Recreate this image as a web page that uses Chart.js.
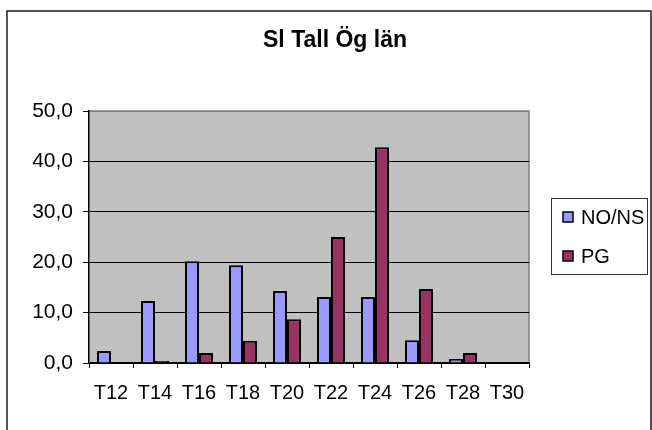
<!DOCTYPE html>
<html>
<head>
<meta charset="utf-8">
<title>Sl Tall Ög län</title>
<script src="https://cdn.jsdelivr.net/npm/chart.js@4"></script>
<style>
  html, body { margin: 0; padding: 0; background: #fff; }
  #wrap { width: 652px; height: 430px; position: relative; }
</style>
</head>
<body>
<div id="wrap"><canvas id="siChart" width="652" height="430"></canvas></div>
<script>
const chartTitle = "Sl Tall Ög län";
const categories = ["T12", "T14", "T16", "T18", "T20", "T22", "T24", "T26", "T28", "T30"];
const noNsValues = [2.4, 12.3, 20.2, 19.4, 14.3, 13.1, 13.1, 4.5, 0.8, 0];
const pgValues = [0, 0.4, 2.0, 4.4, 8.7, 25.0, 42.8, 14.7, 2.0, 0];
const yTicks = [0, 10, 20, 30, 40, 50];

const FONT = "'Liberation Sans', Arial, sans-serif";

// plot background, outer frame, title and boxed legend
const excelLook = {
    id: "excelLook",
    beforeDraw(chart) {
        const { ctx, chartArea: a } = chart;
        ctx.save();
        ctx.fillStyle = "#c0c0c0";
        ctx.fillRect(a.left, a.top, a.right - a.left, a.bottom - a.top);
        ctx.strokeStyle = "#808080";
        ctx.lineWidth = 1.5;
        ctx.beginPath();
        ctx.moveTo(a.left, a.top);
        ctx.lineTo(a.right, a.top);
        ctx.lineTo(a.right, a.bottom);
        ctx.stroke();
        ctx.restore();
    },
    afterDraw(chart) {
        const ctx = chart.ctx;
        ctx.save();

        // outer frame
        ctx.strokeStyle = "#1a1a1a";
        ctx.lineWidth = 1.5;
        ctx.strokeRect(7, 11, 644, 440);

        // title
        ctx.fillStyle = "#000";
        ctx.font = "bold 23px " + FONT;
        ctx.textAlign = "center";
        ctx.textBaseline = "alphabetic";
        ctx.fillText(chartTitle, 335, 47);

        // legend
        ctx.strokeStyle = "#333";
        ctx.lineWidth = 1;
        ctx.strokeRect(551.5, 198.5, 96, 76);
        ctx.font = "20px " + FONT;
        ctx.textAlign = "left";
        ctx.textBaseline = "middle";
        const rows = [217, 256];
        chart.data.datasets.forEach((ds, i) => {
            const y = rows[i];
            ctx.fillStyle = ds.backgroundColor;
            ctx.fillRect(563, y - 5, 10, 10);
            ctx.strokeStyle = "#000";
            ctx.lineWidth = 1.5;
            ctx.strokeRect(563, y - 5, 10, 10);
            ctx.fillStyle = "#000";
            ctx.fillText(ds.label, 581, y + 1);
        });
        ctx.restore();
    }
};

const ctx = document.getElementById("siChart").getContext("2d");

new Chart(ctx, {
    type: "bar",
    data: {
        labels: categories,
        datasets: [
            {
                label: "NO/NS",
                data: noNsValues,
                backgroundColor: "#9999ff",
                borderColor: "#000",
                borderWidth: 2,
                categoryPercentage: 0.636,
                barPercentage: 1.0,
            },
            {
                label: "PG",
                data: pgValues,
                backgroundColor: "#993366",
                borderColor: "#000",
                borderWidth: 2,
                categoryPercentage: 0.636,
                barPercentage: 1.0,
            },
        ],
    },
    options: {
        responsive: false,
        animation: false,
        layout: {
            padding: { top: 111, right: 123, bottom: 0, left: 0 },
        },
        plugins: {
            legend: { display: false },
            title: { display: false },
            tooltip: { enabled: false },
        },
        scales: {
            x: {
                afterFit(scale) { scale.height = 67; },
                grid: {
                    drawOnChartArea: false,
                    drawTicks: true,
                    tickLength: 5,
                    tickColor: "#000",
                    color: "#000",
                },
                border: { display: true, color: "#000", width: 1.5 },
                ticks: {
                    color: "#000",
                    padding: 13,
                    font: { family: FONT, size: 20 },
                },
            },
            y: {
                min: 0,
                max: 50,
                afterFit(scale) { scale.width = 89; },
                afterBuildTicks(scale) {
                    scale.ticks = yTicks.map((v) => ({ value: v }));
                },
                grid: {
                    color: (c) => (c.tick && c.tick.value === 50 ? "#808080" : "#000"),
                    lineWidth: 1,
                    tickLength: 6,
                    tickColor: "#000",
                },
                border: { display: true, color: "#000", width: 1.5 },
                ticks: {
                    color: "#000",
                    padding: 10,
                    font: { family: FONT, size: 21 },
                    callback: (v) => v.toFixed(1).replace(".", ","),
                },
            },
        },
    },
    plugins: [excelLook],
});
</script>
</body>
</html>
